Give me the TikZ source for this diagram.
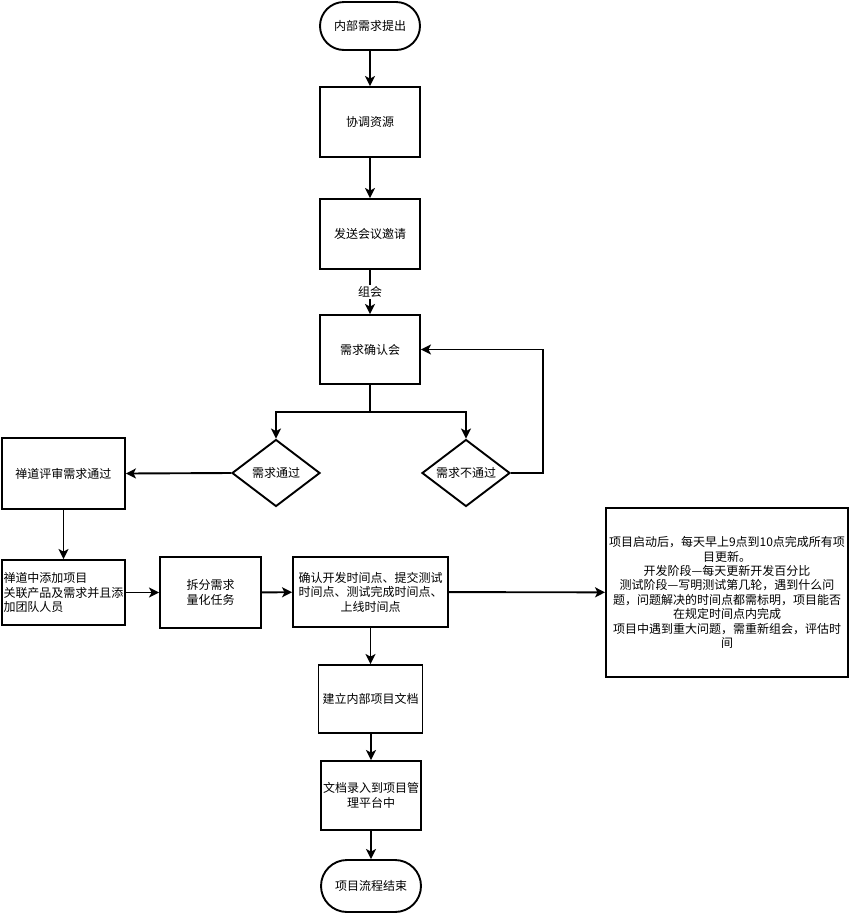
\documentclass[tikz,border=0pt]{standalone}
\usepackage{fontspec}
\setmainfont{Noto Sans CJK SC}
\usetikzlibrary{arrows.meta,shapes.geometric}
\begin{document}
\begin{tikzpicture}[x=1pt,y=-1pt,
  base/.style={draw, line width=1.9pt, font=\fontsize{12}{14.4}\selectfont, inner sep=2pt, align=center},
  proc/.style={base, rectangle, minimum width=100pt, minimum height=70pt},
  term/.style={base, rectangle, rounded corners=24pt, minimum width=100pt, minimum height=48pt},
  dec/.style={base, diamond, aspect=1.3, minimum width=88pt, minimum height=67pt, inner sep=0pt},
  link/.style={line width=1.9pt},
  arr/.style={link, -{Stealth[length=10pt,width=10pt,inset=2.5pt]}},
  lbl/.style={fill=white, font=\fontsize{12}{14.4}\selectfont, inner sep=1pt}
]
\fill[white] (0,0) rectangle (850,914);
\useasboundingbox (0,0) rectangle (850,914);

\node[term] (start) at (370,26) {内部需求提出};
\node[proc] (c1) at (370,122) {协调资源};
\node[proc] (c2) at (370,234) {发送会议邀请};
\node[proc, minimum height=69pt] (c3) at (370,349.5) {需求确认会};
\node[dec] (d1) at (276,473) {需求通过};
\node[dec] (d2) at (466,473) {需求不通过};
\node[proc, minimum width=123pt, minimum height=71pt] (z1) at (63.5,473.5) {禅道评审需求通过};
\node[proc, minimum width=123pt, minimum height=65pt, align=left, inner sep=1pt] (z2) at (63.5,592.5) {禅道中添加项目\\关联产品及需求并且添\\加团队人员};
\node[proc, minimum width=101pt, minimum height=71pt] (s1) at (210.5,592.5) {拆分需求\\量化任务};
\node[proc, minimum width=155pt, minimum height=70pt] (q1) at (370.5,592) {确认开发时间点、提交测试\\时间点、测试完成时间点、\\上线时间点};
\node[proc, minimum width=242pt, minimum height=169pt] (r1) at (727,592.5) {项目启动后，每天早上9点到10点完成所有项\\目更新。\\开发阶段—每天更新开发百分比\\测试阶段—写明测试第几轮，遇到什么问\\题，问题解决的时间点都需标明，项目能否\\在规定时间点内完成\\项目中遇到重大问题，需重新组会，评估时\\间};
\node[proc, minimum width=104pt, minimum height=68pt] (b1) at (370.5,699) {建立内部项目文档};
\node[proc, minimum height=69pt] (b2) at (371,795.5) {文档录入到项目管\\理平台中};
\node[term, minimum height=52pt, rounded corners=26pt] (end) at (371,886) {项目流程结束};

\draw[arr] (start) -- (c1);
\draw[arr] (c1) -- (c2);
\draw[arr] (c2) -- node[lbl] (l1) {组会} (c3);
\coordinate (j) at (370,412);
\draw[link] (c3.south) -- (j);
\draw[arr] (j) -| (d1.north);
\draw[arr] (j) -| (d2.north);
\draw[arr] (d2.east) -- ++(32,0) |- (c3.east);
\draw[arr] (d1.west) -- (z1.east);
\draw[arr] (z1) -- (z2);
\draw[arr] (z2) -- (s1);
\draw[arr] (s1) -- (q1);
\draw[arr] (q1) -- (r1);
\draw[arr] (q1.south) -- (q1.south |- b1.north);
\draw[arr] (b1.south -| b2.north) -- (b2.north);
\draw[arr] (b2) -- (end);
\end{tikzpicture}
\end{document}
